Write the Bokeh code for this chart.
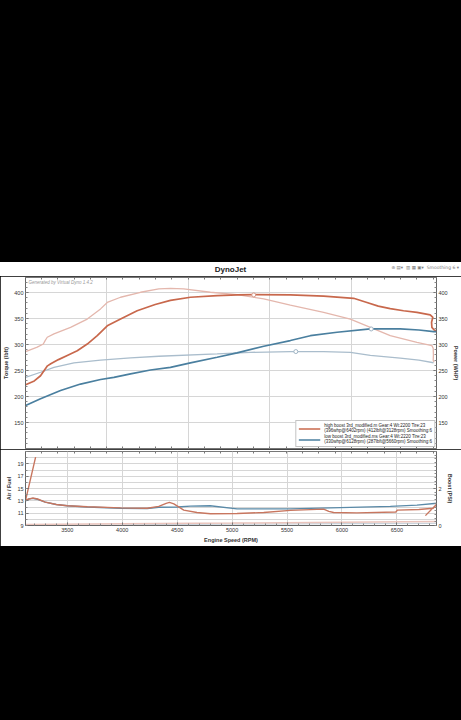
import numpy as np
from bokeh.plotting import figure
from bokeh.models import (Range1d, LinearAxis, FixedTicker, Label, Legend, LegendItem, Spacer, Div,
                          CustomJSTickFormatter)
from bokeh.layouts import column
from bokeh.embed import file_html
from bokeh.resources import INLINE

# ---------------- data ----------------
# high boost, dark red curve (power)
hb_power_rpm = [3121, 3200, 3257, 3290, 3320, 3350, 3420, 3500, 3591, 3682, 3773, 3864, 3985, 4136,
                4300, 4439, 4621, 4864, 5050, 5200, 5530, 5833, 6106, 6227, 6330, 6439, 6560, 6682,
                6803, 6827, 6815, 6818, 6839, 6864]
hb_power_val = [222.5, 230, 240, 250, 259, 263, 271, 279, 288, 301, 317, 336, 349, 365,
                377, 385, 391, 394, 395.5, 396, 395.5, 393, 389, 381, 374, 369, 365, 362,
                357, 352.5, 343, 333, 328, 326]
# high boost, light red curve (torque)
hb_torque_rpm = [3121, 3227, 3282, 3300, 3318, 3379, 3530, 3682, 3803, 3864, 3985, 4167, 4333, 4439,
                 4560, 4803, 5045, 5288, 5530, 5833, 6076, 6258, 6439, 6682, 6818, 6830, 6832, 6830, 6838]
hb_torque_val = [286.5, 295, 301, 308, 314, 320.6, 333, 349, 368.6, 381, 391, 400.6, 407, 408,
                 407, 400.6, 396, 388, 376, 362, 349, 333, 317, 304, 298, 293, 280, 270, 266]
# low boost, dark blue curve (power)
lb_power_rpm = [3121, 3257, 3439, 3621, 3803, 3924, 4076, 4257, 4439, 4621, 4864, 5045, 5288, 5530,
                5712, 5955, 6258, 6530, 6700, 6833, 6860]
lb_power_val = [182.7, 195.6, 211.5, 224, 232.7, 237, 243.6, 251, 256, 264.7, 275.6, 284, 296.7, 307.7,
                317, 323.7, 330, 330, 328, 325, 325]
# low boost, light blue curve (torque)
lb_torque_rpm = [3121, 3257, 3379, 3561, 3803, 4076, 4333, 4864, 5167, 5530, 5833, 6076, 6258, 6530,
                 6700, 6833]
lb_torque_val = [237, 246.7, 256, 264.7, 270, 274.5, 277.5, 282, 285, 286.5, 286.5, 285, 279, 274,
                 270, 265]
# peak markers
mark_rpm = [5197, 6266, 5580]
mark_val = [395.5, 330, 286.5]

# air / fuel
afr_hb_rpm = [3212, 3121, 3150, 3185, 3230, 3300, 3400, 3500, 3682, 3985, 4227, 4333, 4400, 4430,
              4470, 4560, 4680, 4803, 5045, 5288, 5530, 5833, 5880, 5924, 6136, 6490, 6505, 6700,
              6830, 6864, 6759]
afr_hb_val = [20.1, 13.1, 13.3, 13.45, 13.3, 12.8, 12.4, 12.2, 12.05, 11.85, 11.8, 12.1, 12.6, 12.75,
              12.5, 11.5, 11.1, 10.9, 10.95, 11.1, 11.45, 11.65, 11.3, 11.1, 11.05, 11.2, 11.5, 11.6,
              11.8, 12.5, 10.6]
afr_lb_rpm = [3121, 3150, 3185, 3230, 3300, 3400, 3500, 3682, 3985, 4227, 4333, 4500, 4620, 4800,
              5045, 5288, 5530, 5985, 6440, 6682, 6864]
afr_lb_val = [13.0, 13.3, 13.4, 13.25, 12.8, 12.4, 12.2, 12.0, 11.8, 11.75, 11.95, 12.0, 12.15, 12.2,
              11.7, 11.7, 11.7, 11.9, 12.1, 12.3, 12.6]
# boost
boost_rpm = [3121, 4000, 5000, 6000, 6864]
boost_hb = [0.06, 0.09, 0.13, 0.18, 0.22]
boost_lb = [0.02, 0.04, 0.07, 0.10, 0.12]

torque_ticks = [150, 200, 250, 300, 350, 400]
afr_ticks = [9, 11, 13, 15, 17, 19]
boost_ticks = [0, 2]
rpm_ticks = [3500, 4000, 4500, 5000, 5500, 6000, 6500]

legend_hb = "high boost 3rd_modified.m Gear:4 Wt:2200 Tire:23\n(396whp@6402rpm) (412lbft@3128rpm) Smoothing:6"
legend_lb = "low boost 3rd_modified.ms Gear:4 Wt:2220 Tire:23\n(330whp@6128rpm) (287lbft@5660rpm) Smoothing:6"

# ---------------- styling ----------------
FONT = "Liberation Sans"
W = 461
C_HB = "#c8684c"
C_HB_L = "#e4b7ad"
C_LB = "#4a7f9f"
C_LB_L = "#aabdcc"
GRID = "#d6d6d6"
TXT = "#333333"

x_rng = Range1d(3120, 6860)


def style_axis(ax, size="5.5px"):
    ax.major_label_text_font = FONT
    ax.major_label_text_font_size = size
    ax.major_label_text_color = TXT
    ax.axis_label_text_font = FONT
    ax.axis_label_text_font_size = "5.5px"
    ax.axis_label_text_font_style = "bold"
    ax.axis_label_text_color = TXT
    ax.axis_label_standoff = 2
    ax.major_label_standoff = 2
    ax.major_tick_in = 3
    ax.major_tick_out = 0
    ax.minor_tick_in = 2
    ax.minor_tick_out = 0
    ax.axis_line_color = "#666666"
    ax.major_tick_line_color = "#666666"
    ax.minor_tick_line_color = "#888888"


def tick_only_axis(ticks):
    ax = LinearAxis(ticker=FixedTicker(ticks=ticks),
                    formatter=CustomJSTickFormatter(code="return ''"))
    ax.major_label_standoff = 0
    ax.major_tick_in = 2
    ax.major_tick_out = 0
    ax.minor_tick_line_color = None
    ax.axis_line_color = None
    ax.major_tick_line_color = "#777777"
    return ax


edge_ticks = [float(t) for t in np.arange(3116, 6860, 148.5)]

# ---------------- header ----------------
header = Div(
    width=W, height=14,
    styles={"background-color": "white", "margin": "0", "padding": "0"},
    text=(
        '<div style="position:relative;width:461px;height:14px;font-family:\'Liberation Sans\',sans-serif;">'
        '<span style="position:absolute;left:0;width:461px;top:2px;text-align:center;'
        'font-weight:bold;font-size:8px;color:#222;">DynoJet</span>'
        '<span style="position:absolute;right:2px;top:3px;font-size:4.5px;color:#7a7a7a;'
        'font-family:\'DejaVu Sans\',sans-serif;">⊕ ▤▾ &nbsp;▥ ▦ ▣▾ &nbsp;Smoothing 6 ▾</span>'
        '</div>'
    ),
)

# ---------------- top plot ----------------
top = figure(width=W, height=173, x_range=x_rng, y_range=Range1d(100, 429),
             output_backend="svg", toolbar_location=None, x_axis_location=None,
             min_border_left=25, min_border_right=25, min_border_top=1, min_border_bottom=1,
             border_fill_color="white", background_fill_color="white",
             outline_line_color="#777777")
top.extra_y_ranges = {"power": Range1d(100, 429)}

ly = top.yaxis[0]
ly.ticker = FixedTicker(ticks=torque_ticks, minor_ticks=list(range(110, 430, 10)))
ly.axis_label = "Torque (lbft)"
style_axis(ly, "5.5px")
ry = LinearAxis(y_range_name="power", axis_label="Power (WHP)",
                ticker=FixedTicker(ticks=torque_ticks, minor_ticks=list(range(110, 430, 10))))
style_axis(ry, "5.5px")
top.add_layout(ry, "right")
top.add_layout(tick_only_axis(edge_ticks), "below")
top.add_layout(tick_only_axis(edge_ticks), "above")

top.xgrid.ticker = FixedTicker(ticks=[3857, 4603, 5340, 6085])
top.ygrid.ticker = FixedTicker(ticks=torque_ticks)
top.xgrid.grid_line_color = GRID
top.ygrid.grid_line_color = GRID

top.line(hb_torque_rpm, hb_torque_val, line_color=C_HB_L, line_width=1.3)
top.line(lb_torque_rpm, lb_torque_val, line_color=C_LB_L, line_width=1.3)
r_hb = top.line(hb_power_rpm, hb_power_val, line_color=C_HB, line_width=1.7)
r_lb = top.line(lb_power_rpm, lb_power_val, line_color=C_LB, line_width=1.7)
top.scatter(mark_rpm, mark_val, marker="circle", size=4, fill_color="white",
            line_color=["#d69a8a", "#9fb4c4", "#9fb4c4"], line_width=1)

legend = Legend(items=[LegendItem(label=legend_hb, renderers=[r_hb]),
                       LegendItem(label=legend_lb, renderers=[r_lb])],
                location="bottom_right")
legend.label_text_font = FONT
legend.label_text_font_size = "4.5px"
legend.label_text_color = "#222222"
legend.glyph_width = 22
legend.glyph_height = 9
legend.label_height = 9
legend.label_standoff = 4
legend.spacing = 1
legend.padding = 2
legend.margin = 1
legend.border_line_color = "#888888"
legend.background_fill_alpha = 1.0
top.add_layout(legend, "center")

top.add_layout(Label(x=3, y=164, x_units="screen", y_units="screen",
                     text="Generated by Virtual Dyno 1.4.2", text_font=FONT,
                     text_font_size="4.5px", text_font_style="italic", text_color="#999999"))

# ---------------- bottom plot ----------------
bot = figure(width=W, height=97, x_range=x_rng, y_range=Range1d(9, 21),
             output_backend="svg", toolbar_location=None,
             min_border_left=25, min_border_right=25, min_border_top=2, min_border_bottom=21,
             border_fill_color="white", background_fill_color="white",
             outline_line_color="#777777")
bot.extra_y_ranges = {"boost": Range1d(0, 4)}

bx = bot.xaxis[0]
bx.ticker = FixedTicker(ticks=rpm_ticks, minor_ticks=list(range(3200, 6860, 100)))
bx.axis_label = "Engine Speed (RPM)"
style_axis(bx, "5.5px")

bly = bot.yaxis[0]
bly.ticker = FixedTicker(ticks=afr_ticks, minor_ticks=list(range(9, 22)))
bly.axis_label = "Air / Fuel"
style_axis(bly, "5.5px")
bry = LinearAxis(y_range_name="boost", axis_label="Boost (PSI)",
                 ticker=FixedTicker(ticks=boost_ticks, minor_ticks=[round(0.2 * i, 1) for i in range(21)]))
style_axis(bry, "5.5px")
bot.add_layout(bry, "right")
bot.add_layout(tick_only_axis(edge_ticks), "above")

bot.xgrid.ticker = FixedTicker(ticks=rpm_ticks)
bot.ygrid.ticker = FixedTicker(ticks=list(range(10, 21)))
bot.xgrid.grid_line_color = GRID
bot.ygrid.grid_line_color = GRID

bot.line(boost_rpm, boost_lb, y_range_name="boost", line_color="#c9d3dc", line_width=1.2)
bot.line(boost_rpm, boost_hb, y_range_name="boost", line_color="#eac4bc", line_width=1.5)
bot.line(afr_lb_rpm, afr_lb_val, line_color="#5a8aa8", line_width=1.4)
bot.line(afr_hb_rpm, afr_hb_val, line_color="#c8765f", line_width=1.4)

spacer = Spacer(width=W, height=262, styles={"background-color": "black"})
layout = column(spacer, header, top, bot, spacing=0,
                styles={"background-color": "black"})

html = file_html(layout, INLINE, title="DynoJet")
css = "<style>html, body { background: #000000 !important; margin: 0 !important; padding: 0 !important; }</style>"
html = html.replace("</head>", css + "\n</head>", 1)
open("out.html", "w").write(html)
